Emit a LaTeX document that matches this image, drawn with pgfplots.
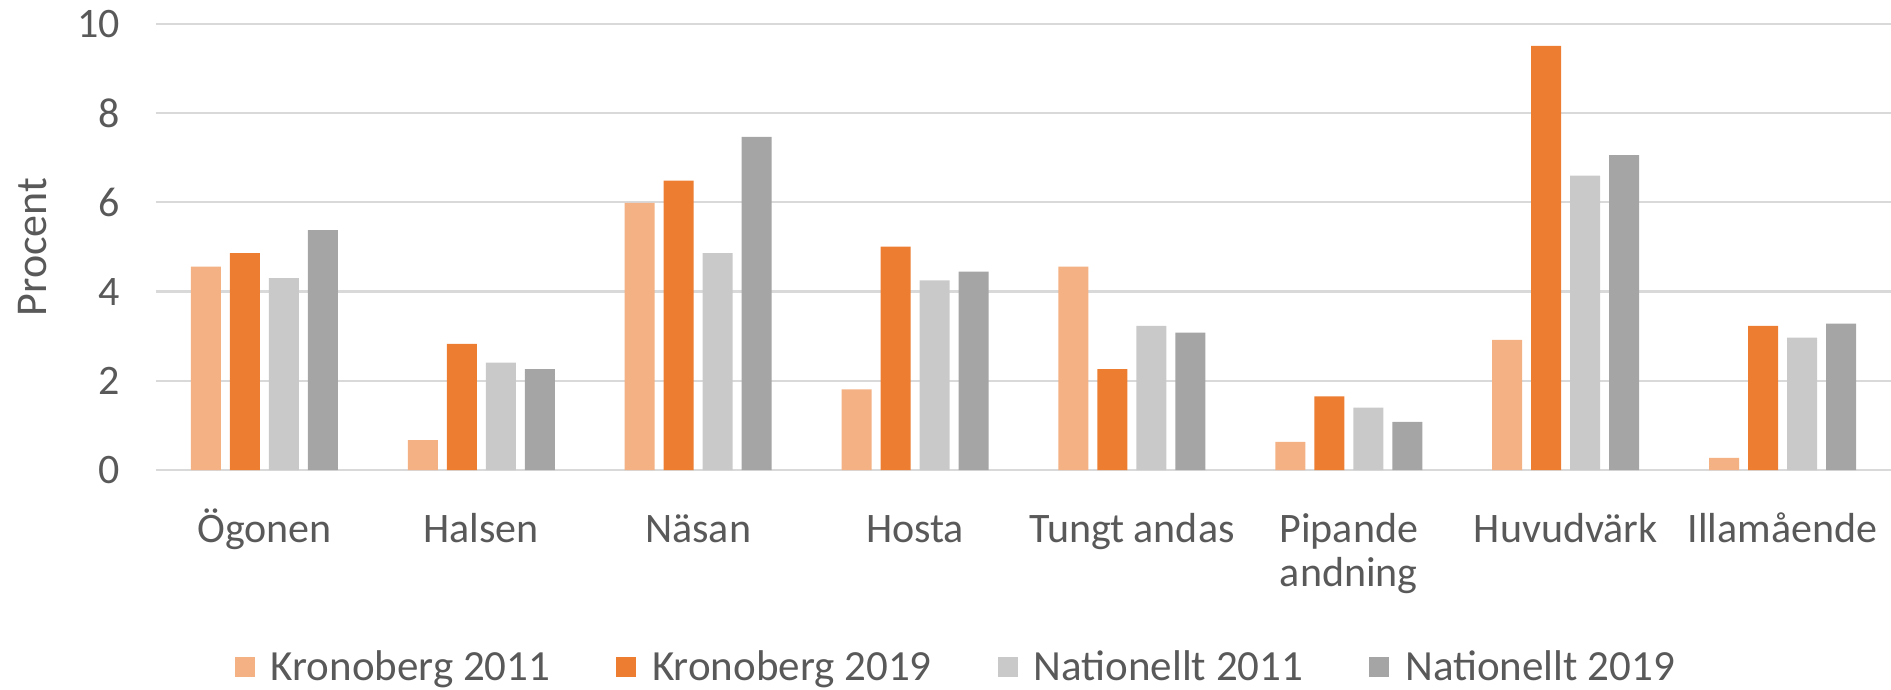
\documentclass[border=0pt]{standalone}
\usepackage{fontspec}
\setmainfont{Carlito}
\usepackage{pgfplots}
\pgfplotsset{compat=1.18}
\definecolor{kA}{HTML}{F4B183}
\definecolor{kB}{HTML}{ED7D31}
\definecolor{nA}{HTML}{C9C9C9}
\definecolor{nB}{HTML}{A5A5A5}
\definecolor{txt}{HTML}{595959}
\definecolor{grd}{HTML}{D9D9D9}
\begin{document}
\begin{tikzpicture}
\begin{axis}[
  scale only axis,
  width=867.5pt, height=223pt,
  at={(0,0)}, anchor=south west,
  ybar=4.5pt, bar width=15pt,
  xmin=-0.5, xmax=7.5, ymin=0, ymax=10,
  xtick={0,...,7},
  xticklabels={Ögonen,Halsen,Näsan,Hosta,Tungt andas,{\renewcommand\arraystretch{0.92}\begin{tabular}[t]{@{}c@{}}Pipande\\andning\end{tabular}},Huvudvärk,Illamående},
  ytick={0,2,4,6,8,10},
  /pgf/number format/assume math mode=true,
  axis line style={draw=none},
  tick style={draw=none},
  ymajorgrids,
  major grid style={color=grd, line width=1.1pt},
  xticklabel style={font=\fontsize{21}{24}\selectfont, text=txt, anchor=base, inner sep=0pt, yshift=-32pt},
  yticklabel style={font=\fontsize{21}{24}\selectfont, text=txt, anchor=east, inner sep=0pt, xshift=-18pt},
  ylabel={Procent},
  every axis y label/.style={at={(axis description cs:-0.0709,0.5)}, rotate=90, anchor=center, font=\fontsize{22}{24}\selectfont, text=txt},
  legend columns=4,
  legend style={draw=none, fill=none, at={(axis description cs:0.4616,-0.4417)}, anchor=center,
    font=\fontsize{21.5}{24}\selectfont, text=txt,
    /tikz/every odd column/.append style={column sep=6pt},
    /tikz/every even column/.append style={column sep=31pt}},
  legend image code/.code={\fill[#1] (0pt,-5pt) rectangle (10pt,5pt);},
]
\addplot[fill=kA, draw=none] coordinates {(0,4.56) (1,0.67) (2,5.99) (3,1.81) (4,4.56) (5,0.63) (6,2.92) (7,0.27)};
\addplot[fill=kB, draw=none] coordinates {(0,4.86) (1,2.83) (2,6.49) (3,5.01) (4,2.26) (5,1.65) (6,9.51) (7,3.23)};
\addplot[fill=nA, draw=none] coordinates {(0,4.30) (1,2.41) (2,4.86) (3,4.25) (4,3.23) (5,1.40) (6,6.60) (7,2.97)};
\addplot[fill=nB, draw=none] coordinates {(0,5.38) (1,2.26) (2,7.47) (3,4.45) (4,3.08) (5,1.08) (6,7.06) (7,3.28)};
\legend{Kronoberg 2011, Kronoberg 2019, Nationellt 2011, Nationellt 2019}
\end{axis}
\pgfresetboundingbox
\path (-78pt,-110pt) rectangle (867.5pt,235pt);
\end{tikzpicture}
\end{document}
